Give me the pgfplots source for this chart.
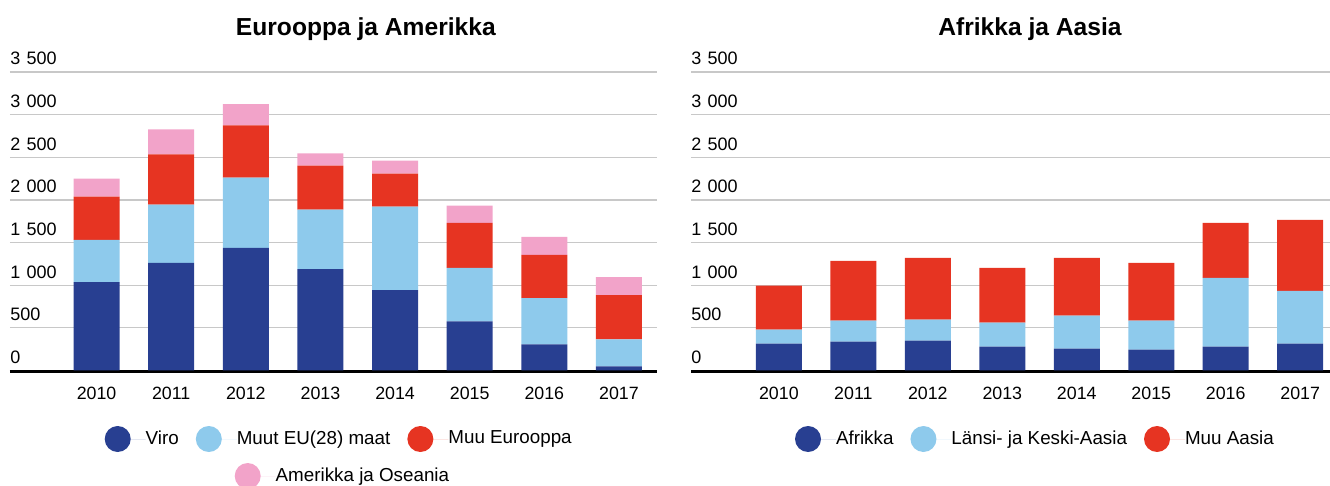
\documentclass[border=0pt]{standalone}
\usepackage{fontspec}
\setmainfont{Liberation Sans}
\usepackage{pgfplots}
\pgfplotsset{compat=1.18}
\definecolor{cDark}{HTML}{283F91}
\definecolor{cLight}{HTML}{8ECAEC}
\definecolor{cRed}{HTML}{E63422}
\definecolor{cPink}{HTML}{F2A3C9}
\definecolor{cGrid}{HTML}{C8C8C8}
\pgfplotsset{
  circlegend/.style={legend image code/.code={\fill (0pt,0pt) circle (6.5pt); \path (-6.5pt,0pt) -- (14pt,0pt);}},
  mylegend/.style={legend style={draw=none, fill=none, inner sep=0pt, outer sep=0pt, anchor=west,
      font=\fontsize{9.4}{11}\selectfont, nodes={inner sep=0pt},
      /tikz/every even column/.append style={column sep=8.5pt}}},
  mybars/.style={
    ybar stacked, bar width=23pt,
    scale only axis, anchor=south west,
    height=149.25pt,
    ymin=0, ymax=3500, ytick={0,500,...,3500},
    ymajorgrids, grid style={color=cGrid, line width=0.6pt},
    axis x line*=bottom, axis y line*=left,
    y axis line style={draw=none},
    x axis line style={line width=1.5pt, yshift=-0.75pt, black},
    major tick length=0pt, tick style={draw=none},
    xtick={0,...,7}, xticklabels={2010,2011,2012,2013,2014,2015,2016,2017},
    xticklabel style={anchor=base, inner sep=0pt, yshift=-14.4pt, font=\fontsize{8.9}{10}\selectfont},
    yticklabel style={anchor=base west, inner sep=0pt, yshift=3.5pt, font=\fontsize{9}{10}\selectfont},
    /pgf/number format/.cd, 1000 sep={\hspace{0.35em}}, assume math mode=true, /pgfplots/.cd,
    title style={anchor=base, inner sep=0pt, yshift=12pt, font=\fontsize{12.3}{14}\selectfont\bfseries},
    legend columns=3, legend cell align=left, mylegend,
  }
}
\begin{document}
\begin{tikzpicture}
\path[use as bounding box] (0,0) rectangle (665pt,243pt);
% Left chart
\begin{axis}[mybars, at={(5pt,57.75pt)}, width=323.5pt,
  xmin=-1.16, xmax=7.51,
  title={Eurooppa ja Amerikka}, title style={at={(0.55,1)}},
  legend style={at={(0.1464,-0.2295)}}]
\addplot[fill=cDark, draw=none, circlegend] coordinates {(0,1037) (1,1261) (2,1437) (3,1190) (4,942) (5,577) (6,306) (7,47)};
\addlegendentry{Viro}
\addplot[fill=cLight, draw=none, circlegend] coordinates {(0,494) (1,683) (2,825) (3,695) (4,978) (5,625) (6,542) (7,318)};
\addlegendentry{Muut EU(28) maat}
\addplot[fill=cRed, draw=none, circlegend] coordinates {(0,507) (1,589) (2,613) (3,518) (4,389) (5,530) (6,507) (7,519)};
\addlegendentry{Muu Eurooppa}
\addplot[fill=cPink, draw=none, circlegend] coordinates {(0,212) (1,294) (2,247) (3,142) (4,153) (5,200) (6,212) (7,212)};
\end{axis}
% second legend row (left)
\begin{axis}[at={(5pt,57.75pt)}, anchor=south west, scale only axis, width=323.5pt, height=149.25pt,
  hide axis, xmin=0, xmax=1, ymin=0, ymax=1, mylegend,
  legend style={at={(0.3473,-0.3535)}}]
\addlegendimage{fill=cPink, draw=none, circlegend}
\addlegendentry{Amerikka ja Oseania}
\end{axis}
% Right chart
\begin{axis}[mybars, at={(345.5pt,57.75pt)}, width=319.5pt,
  xmin=-1.18, xmax=7.40,
  title={Afrikka ja Aasia}, title style={at={(0.5305,1)}},
  legend style={at={(0.1628,-0.2295)}}]
\addplot[fill=cDark, draw=none, circlegend] coordinates {(0,316) (1,339) (2,351) (3,281) (4,257) (5,246) (6,281) (7,316)};
\addlegendentry{Afrikka}
\addplot[fill=cLight, draw=none, circlegend] coordinates {(0,163) (1,246) (2,245) (3,280) (4,386) (5,339) (6,806) (7,619)};
\addlegendentry{Länsi- ja Keski-Aasia}
\addplot[fill=cRed, draw=none, circlegend] coordinates {(0,515) (1,701) (2,725) (3,643) (4,678) (5,678) (6,643) (7,830)};
\addlegendentry{Muu Aasia}
\end{axis}
\end{tikzpicture}
\end{document}
